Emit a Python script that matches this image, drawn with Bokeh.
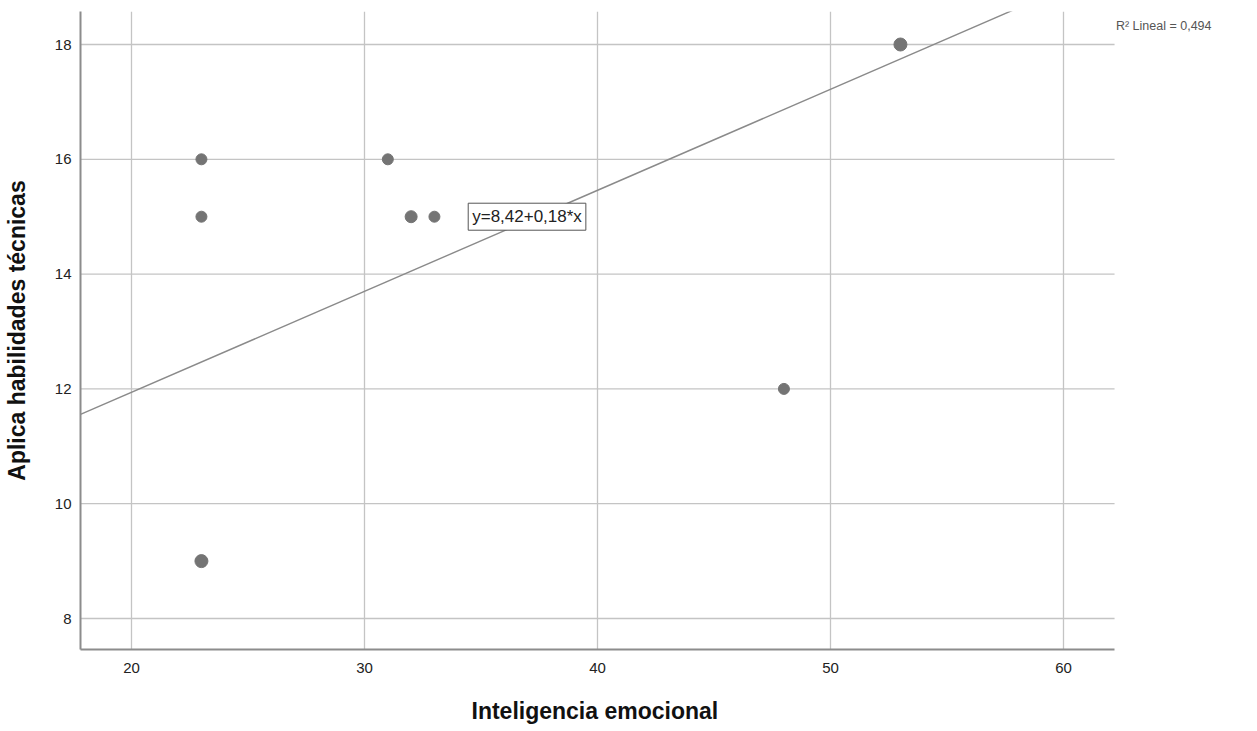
from bokeh.plotting import figure
from bokeh.models import Range1d, Label, FixedTicker, ColumnDataSource, Title
from bokeh.embed import file_html
from bokeh.resources import INLINE

# Data
x_vals = [23, 23, 23, 31, 32, 33, 48, 53]
y_vals = [16, 15, 9, 16, 15, 15, 12, 18]
sizes = [11, 11, 13, 11, 12, 11, 11, 13]
x_ticks = [20, 30, 40, 50, 60]
y_ticks = [8, 10, 12, 14, 16, 18]
intercept = 8.42
slope = 0.176
r2_text = "R² Lineal = 0,494"
eq_text = "y=8,42+0,18*x"
x_title = "Inteligencia emocional"
y_title = "Aplica habilidades técnicas"

x_start, x_axis_end = 17.81, 62.19
px_per_x = 23.3
frame_w = 1150
x_end = x_start + frame_w / px_per_x
y_start, y_end = 7.46, 18.575

p = figure(frame_width=frame_w, frame_height=638,
           min_border_left=80, min_border_right=4,
           min_border_top=11, min_border_bottom=66,
           x_range=Range1d(x_start, x_end), y_range=Range1d(y_start, y_end),
           output_backend="svg", toolbar_location=None, tools="")
p.outline_line_color = None
p.background_fill_color = "white"

for ax in (p.xaxis[0], p.yaxis[0]):
    ax.axis_line_color = "#8c8c8c"
    ax.axis_line_width = 2
    ax.major_tick_line_color = None
    ax.minor_tick_line_color = None
    ax.major_label_text_font = "Liberation Sans"
    ax.major_label_text_font_size = "15px"
    ax.major_label_text_color = "#222222"
    ax.axis_label_text_font = "Liberation Sans"
    ax.axis_label_text_font_size = "23px"
    ax.axis_label_text_font_style = "bold"
    ax.axis_label_text_color = "#111111"

p.xaxis.bounds = (x_start, x_axis_end)
p.xaxis.ticker = FixedTicker(ticks=x_ticks)
p.yaxis.ticker = FixedTicker(ticks=y_ticks)
p.yaxis.axis_label = y_title
p.xaxis.major_label_standoff = 7
p.yaxis.major_label_standoff = 3
p.yaxis.axis_label_standoff = 22

# x-axis title centred under the visible axis (the frame is wider to hold the R² note)
p.add_layout(Title(text=x_title, align="left", offset=391, standoff=41,
                   text_font="Liberation Sans", text_font_size="23px",
                   text_font_style="bold", text_color="#111111"), "below")

# vertical grid from the axis; horizontal grid lines drawn only across the axis span
p.xgrid.grid_line_color = "#c4c4c4"
p.xgrid.grid_line_width = 1.3
p.ygrid.visible = False
p.segment(x0=[x_start] * len(y_ticks), y0=y_ticks,
          x1=[x_axis_end] * len(y_ticks), y1=y_ticks,
          line_color="#c4c4c4", line_width=1.3, level="underlay")

# regression line
lx = [x_start, x_axis_end]
ly = [intercept + slope * v for v in lx]
p.line(lx, ly, line_color="#8a8a8a", line_width=1.4)

src = ColumnDataSource(dict(x=x_vals, y=y_vals, s=sizes))
p.scatter("x", "y", size="s", source=src, fill_color="#747474", line_color="#747474")

p.add_layout(Label(x=34.45, y=15.0, text=eq_text, text_font="Liberation Sans",
                   text_font_size="17px", text_color="#222222",
                   text_baseline="middle",
                   background_fill_color="white", border_line_color="#555555",
                   border_line_width=1, padding=4))
p.add_layout(Label(x=62.25, y=18.33, text=r2_text, text_font="Liberation Sans",
                   text_font_size="12.5px", text_color="#555555",
                   text_baseline="middle"))

open("out.html", "w").write(file_html(p, INLINE))
